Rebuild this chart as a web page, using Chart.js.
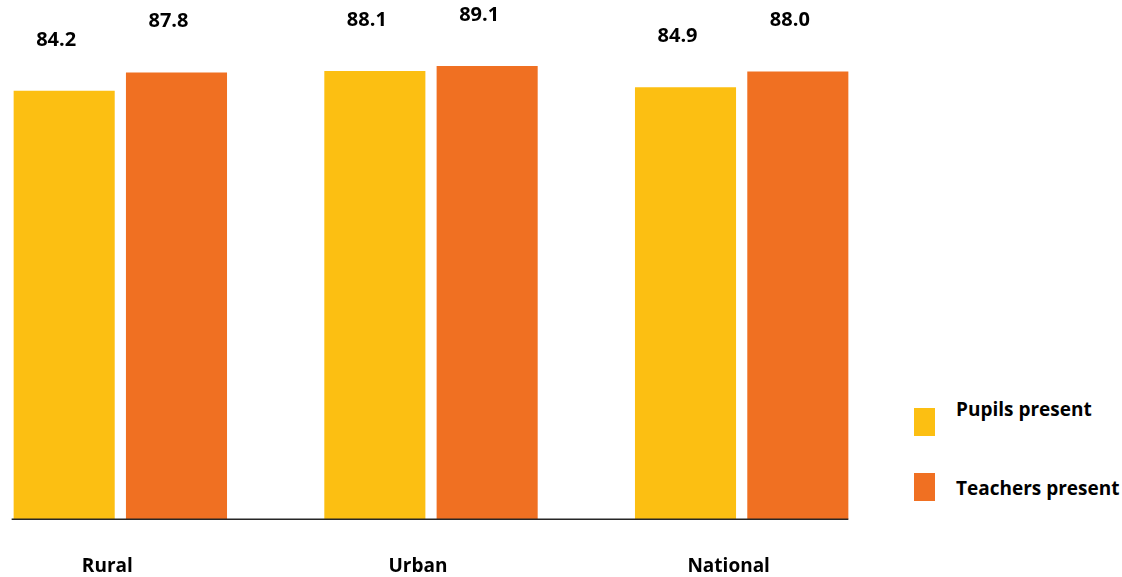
<!DOCTYPE html>
<html>
<head>
<meta charset="utf-8">
<script src="https://cdn.jsdelivr.net/npm/chart.js@4/dist/chart.umd.min.js"></script>
<style>
  body { margin: 0; width: 1122px; height: 577px; overflow: hidden; background: #fff; font-family: 'Open Sans', sans-serif; }
  #wrap { position: absolute; left: -35px; top: 0; width: 932px; height: 615px; }
  .key { position: absolute; left: 914px; width: 21px; height: 28px; }
  .keytext { position: absolute; left: 956px; font-size: 19px; font-weight: bold; line-height: 20px; color: #000; white-space: nowrap; }
</style>
</head>
<body>
<div id="wrap"><canvas id="myChart"></canvas></div>
<div id="legend"></div>
<script>
const categories = ['Rural', 'Urban', 'National'];
const pupilsPresent = [84.2, 88.1, 84.9];
const teachersPresent = [87.8, 89.1, 88.0];
const seriesNames = ['Pupils present', 'Teachers present'];
const seriesColors = ['#FCBF12', '#F07022'];

// legend drawn as html, one row per series
const legendTops = [408, 473];
const legendTextTops = [399, 478];
const legend = document.getElementById('legend');
seriesNames.forEach((name, i) => {
  const box = document.createElement('div');
  box.className = 'key';
  box.style.top = legendTops[i] + 'px';
  box.style.background = seriesColors[i];
  legend.appendChild(box);
  const txt = document.createElement('div');
  txt.className = 'keytext';
  txt.style.top = legendTextTops[i] + 'px';
  txt.textContent = name;
  legend.appendChild(txt);
});

// value labels above the bars + the short baseline
const barExtras = {
  id: 'barExtras',
  afterDatasetsDraw(chart) {
    const ctx = chart.ctx;
    ctx.save();
    let first = null, last = null;
    chart.data.datasets.forEach((ds, di) => {
      chart.getDatasetMeta(di).data.forEach((bar, i) => {
        ctx.fillStyle = '#000';
        ctx.font = "bold 20px 'Open Sans'";
        ctx.textAlign = 'center';
        ctx.textBaseline = 'middle';
        ctx.fillText(ds.data[i].toFixed(1), bar.x - 8, bar.y - 51);
        const l = bar.x - bar.width / 2, r = bar.x + bar.width / 2;
        if (first === null || l < first) first = l;
        if (last === null || r > last) last = r;
      });
    });
    const y = chart.scales.y.getPixelForValue(0);
    ctx.strokeStyle = '#262626';
    ctx.lineWidth = 1.5;
    ctx.beginPath();
    ctx.moveTo(first - 2, y);
    ctx.lineTo(last, y);
    ctx.stroke();
    ctx.restore();
  }
};

const ctx = document.getElementById('myChart');

new Chart(ctx, {
  type: 'bar',
  data: {
    labels: categories,
    datasets: [{
      label: seriesNames[0],
      data: pupilsPresent,
      backgroundColor: seriesColors[0],
      barPercentage: 0.9,
      categoryPercentage: 0.723
    }, {
      label: seriesNames[1],
      data: teachersPresent,
      backgroundColor: seriesColors[1],
      barPercentage: 0.9,
      categoryPercentage: 0.723
    }]
  },
  options: {
    responsive: true,
    maintainAspectRatio: false,
    animation: false,
    layout: { padding: { top: 10.5, bottom: 1, left: 0, right: 0 } },
    plugins: {
      legend: { display: false },
      tooltip: { enabled: false }
    },
    scales: {
      x: {
        offset: true,
        grid: { display: false, drawTicks: false },
        border: { display: false },
        ticks: {
          padding: 36,
          labelOffset: -13,
          maxRotation: 0,
          autoSkip: false,
          color: '#000',
          font: { family: 'Open Sans', size: 19, weight: 'bold' }
        }
      },
      y: {
        display: false,
        min: 0,
        max: 100
      }
    }
  },
  plugins: [barExtras]
});
</script>
</body>
</html>
